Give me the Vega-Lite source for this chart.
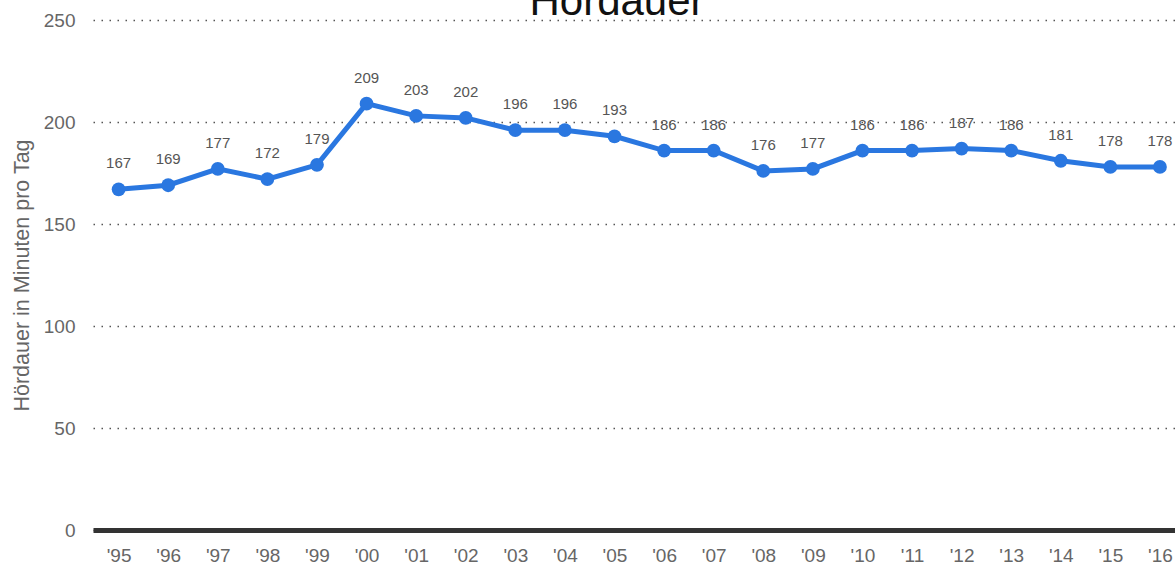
{
  "$schema": "https://vega.github.io/schema/vega-lite/v6.json",
  "width": 1082,
  "height": 510,
  "autosize": {"type": "none"},
  "padding": {"left": 93, "top": 20, "right": 0, "bottom": 36},
  "background": "white",
  "title": {"text": "Hördauer", "fontSize": 42, "font": "Liberation Sans", "fontWeight": "normal", "color": "#111", "anchor": "middle", "frame": "group", "dx": -17, "dy": 53, "offset": 7, "baseline": "alphabetic"},
  "data": {"values": [
    {"jahr": "'95", "wert": 167}, {"jahr": "'96", "wert": 169}, {"jahr": "'97", "wert": 177},
    {"jahr": "'98", "wert": 172}, {"jahr": "'99", "wert": 179}, {"jahr": "'00", "wert": 209},
    {"jahr": "'01", "wert": 203}, {"jahr": "'02", "wert": 202}, {"jahr": "'03", "wert": 196},
    {"jahr": "'04", "wert": 196}, {"jahr": "'05", "wert": 193}, {"jahr": "'06", "wert": 186},
    {"jahr": "'07", "wert": 186}, {"jahr": "'08", "wert": 176}, {"jahr": "'09", "wert": 177},
    {"jahr": "'10", "wert": 186}, {"jahr": "'11", "wert": 186}, {"jahr": "'12", "wert": 187},
    {"jahr": "'13", "wert": 186}, {"jahr": "'14", "wert": 181}, {"jahr": "'15", "wert": 178},
    {"jahr": "'16", "wert": 178}
  ]},
  "config": {
    "view": {"stroke": null},
    "font": "Liberation Sans"
  },
  "encoding": {
    "x": {"field": "jahr", "type": "ordinal", "sort": null,
      "scale": {"type": "point", "padding": 0.41, "align": 0.63},
      "axis": {"title": null, "labelAngle": 0, "ticks": false, "domainColor": "#333", "domainWidth": 5, "labelFontSize": 19, "labelColor": "#666", "labelPadding": 16, "grid": false, "labelFont": "Liberation Sans"}},
    "y": {"field": "wert", "type": "quantitative",
      "scale": {"domain": [0, 250]},
      "axis": {"values": [0, 50, 100, 150, 200, 250], "title": "Hördauer in Minuten pro Tag", "titleFontSize": 21.5, "titleColor": "#666", "titleFontWeight": "normal", "titlePadding": 10, "titleFont": "Liberation Sans", "labelFontSize": 19, "labelColor": "#666", "labelPadding": 18, "labelFont": "Liberation Sans", "ticks": false, "domain": false, "gridColor": "#555", "gridDash": [1.5, 6.5], "gridWidth": 1.5}}
  },
  "layer": [
    {"mark": {"type": "line", "color": "#2a77e0", "strokeWidth": 5}},
    {"mark": {"type": "point", "filled": true, "opacity": 1, "color": "#2a77e0", "size": 190}},
    {"mark": {"type": "text", "dy": -26, "fontSize": 15, "color": "#555", "font": "Liberation Sans"}, "encoding": {"text": {"field": "wert"}}}
  ]
}
